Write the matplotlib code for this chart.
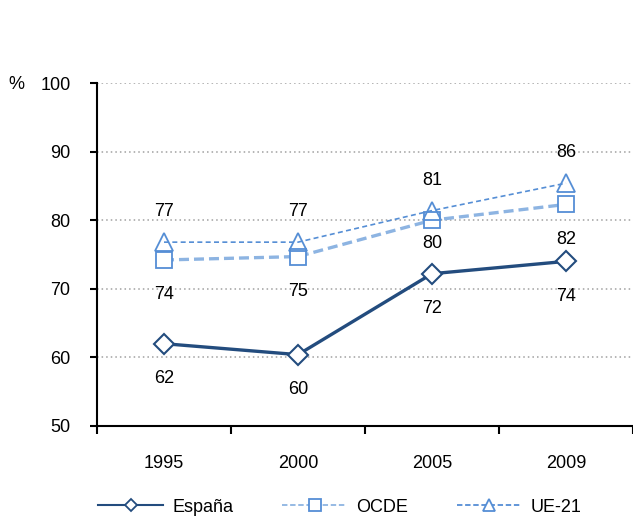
import numpy as np
import matplotlib.pyplot as plt
from matplotlib.lines import Line2D

plt.rcParams['font.family'] = ['Liberation Sans', 'DejaVu Sans']

# datos
years = ['1995', '2000', '2005', '2009']
espana = [62.0, 60.4, 72.2, 74.0]
ocde = [74.2, 74.7, 80.0, 82.3]
ue21 = [76.8, 76.8, 81.4, 85.4]
espana_lbl = ['62', '60', '72', '74']
ocde_lbl = ['74', '75', '80', '82']
ue21_lbl = ['77', '77', '81', '86']

c_esp = '#234C7E'
c_ocde = '#8DB4E2'
c_ue = '#558ED5'
fs = 13

fig = plt.figure(figsize=(6.33, 5.19), dpi=100)
ax = fig.add_axes([97 / 633, 1 - 426 / 519, 536 / 633, (426 - 83) / 519])

x = np.arange(len(years))

ax.plot(x, ocde, color=c_ocde, lw=2.4, ls=(0, (3, 1.5)), marker='s', ms=12,
        mfc='white', mec=c_ue, mew=1.3, zorder=3)
ax.plot(x, ue21, color=c_ue, lw=1.2, ls=(0, (3, 2)), marker='^', ms=13,
        mfc='none', mec=c_ue, mew=1.3, zorder=4)
ax.plot(x, espana, color=c_esp, lw=2.4, marker='D', ms=10,
        mfc='white', mec=c_esp, mew=1.5, zorder=5)

# etiquetas
for i in range(len(years)):
    ax.annotate(ue21_lbl[i], (x[i], ue21[i]), xytext=(0, 22), textcoords='offset points',
                ha='center', va='center', fontsize=fs)
    off = -17 if i == 2 else -25
    ax.annotate(ocde_lbl[i], (x[i], ocde[i]), xytext=(0, off), textcoords='offset points',
                ha='center', va='center', fontsize=fs)
    ax.annotate(espana_lbl[i], (x[i], espana[i]), xytext=(0, -25), textcoords='offset points',
                ha='center', va='center', fontsize=fs)

ax.set_xlim(-0.5, len(years) - 0.5)
ax.set_ylim(50, 100)
ax.set_yticks(np.arange(50, 101, 10))
ax.tick_params(axis='y', labelsize=fs, length=5, width=1.5, pad=14)
ax.set_xticks(x)
ax.set_xticklabels(years)
ax.set_xticks(np.arange(-0.5, len(years), 1), minor=True)
ax.tick_params(axis='x', which='major', length=0, labelsize=fs, pad=21)
ax.tick_params(axis='x', which='minor', length=6, width=1.5)

ax.grid(axis='y', ls=(0, (1, 2)), color='#A0A0A0', lw=1.1)
ax.set_axisbelow(True)
for s in ['top', 'right']:
    ax.spines[s].set_visible(False)
ax.spines['left'].set_linewidth(1.5)
ax.spines['bottom'].set_linewidth(1.5)

fig.text(16 / 633, 1 - 85 / 519, '%', fontsize=fs, ha='center', va='center')

handles = [
    Line2D([], [], color=c_esp, lw=1.5, marker='D', ms=6, mfc='white', mec=c_esp, mew=1.3),
    Line2D([], [], color=c_ocde, lw=1.3, ls=(0, (3, 1.5)), marker='s', ms=9, mfc='white', mec=c_ue, mew=1.3),
    Line2D([], [], color=c_ue, lw=1.3, ls=(0, (3, 1.5)), marker='^', ms=9, mfc='white', mec=c_ue, mew=1.3),
]
fig.legend(handles, ['España', 'OCDE', 'UE-21'], loc='center', ncol=3,
           bbox_to_anchor=(340 / 633, 1 - 507 / 519), frameon=False, fontsize=fs,
           handlelength=3.6, columnspacing=2.7, handletextpad=0.5)

fig.savefig('out.png', dpi=100)
